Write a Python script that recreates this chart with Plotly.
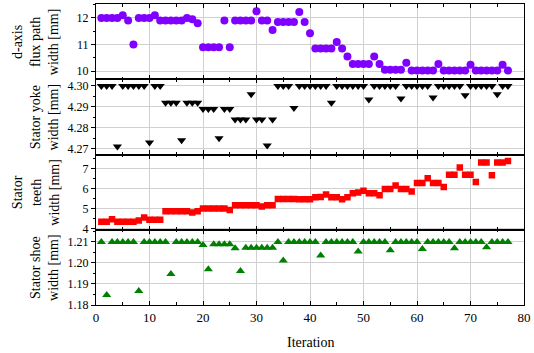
import plotly.graph_objects as go
from plotly.subplots import make_subplots

iteration = list(range(1, 78))

d_axis = [12.0, 12.0, 12.0, 12.0, 12.1, 11.9, 11.0, 12.0, 12.0, 12.0,
          12.1, 11.9, 11.9, 11.9, 11.9, 11.9, 12.0, 11.95, 11.8, 10.9,
          10.9, 10.9, 10.9, 11.9, 10.9, 11.9, 11.9, 11.9, 11.9, 12.25,
          11.9, 11.9, 11.55, 11.85, 11.85, 11.85, 11.85, 12.22, 11.85, 11.42,
          10.85, 10.85, 10.85, 10.85, 11.1, 10.85, 10.55, 10.27, 10.27, 10.27,
          10.27, 10.55, 10.27, 10.06, 10.06, 10.06, 10.06, 10.32, 10.03, 10.03,
          10.03, 10.03, 10.03, 10.27, 10.03, 10.03, 10.03, 10.03, 10.03, 10.24,
          10.03, 10.03, 10.03, 10.03, 10.03, 10.24, 10.03]

yoke = [4.300, 4.300, 4.300, 4.271, 4.300, 4.300, 4.300, 4.300, 4.300, 4.273,
        4.300, 4.300, 4.292, 4.292, 4.292, 4.274, 4.292, 4.292, 4.292, 4.289,
        4.289, 4.289, 4.275, 4.289, 4.289, 4.284, 4.284, 4.284, 4.296, 4.284,
        4.284, 4.2715, 4.284, 4.300, 4.300, 4.300, 4.2895, 4.300, 4.300, 4.300,
        4.300, 4.300, 4.300, 4.292, 4.300, 4.300, 4.300, 4.300, 4.300, 4.300,
        4.2935, 4.300, 4.300, 4.300, 4.300, 4.300, 4.294, 4.300, 4.300, 4.300,
        4.300, 4.300, 4.2945, 4.300, 4.300, 4.300, 4.300, 4.300, 4.2955, 4.300,
        4.300, 4.300, 4.300, 4.300, 4.296, 4.300, 4.300]

teeth = [4.34, 4.34, 4.46, 4.34, 4.34, 4.34, 4.34, 4.40, 4.55, 4.44,
         4.44, 4.44, 4.87, 4.87, 4.87, 4.87, 4.87, 4.80, 4.87, 5.00,
         5.00, 5.00, 5.00, 5.00, 4.93, 5.17, 5.17, 5.17, 5.17, 5.17,
         5.10, 5.17, 5.17, 5.48, 5.48, 5.48, 5.48, 5.46, 5.46, 5.46,
         5.57, 5.58, 5.70, 5.57, 5.56, 5.46, 5.57, 5.77, 5.80, 5.89,
         5.77, 5.77, 5.66, 5.98, 5.98, 6.15, 5.98, 5.98, 5.85, 6.28,
         6.28, 6.51, 6.28, 6.28, 6.07, 6.69, 6.69, 7.05, 6.69, 6.69,
         6.33, 7.30, 7.30, 6.66, 7.30, 7.30, 7.38]

shoe = [1.210, 1.1847, 1.210, 1.210, 1.210, 1.210, 1.210, 1.1867, 1.210, 1.210,
        1.210, 1.210, 1.210, 1.1947, 1.210, 1.210, 1.210, 1.210, 1.210, 1.2086,
        1.197, 1.2089, 1.2089, 1.2089, 1.2089, 1.207, 1.1962, 1.2072, 1.2072, 1.2072,
        1.2072, 1.2072, 1.2072, 1.210, 1.2012, 1.210, 1.210, 1.210, 1.210, 1.210,
        1.210, 1.2036, 1.210, 1.210, 1.210, 1.210, 1.210, 1.210, 1.2055, 1.210,
        1.210, 1.210, 1.210, 1.210, 1.206, 1.210, 1.210, 1.210, 1.210, 1.210,
        1.2066, 1.210, 1.210, 1.210, 1.210, 1.210, 1.207, 1.210, 1.210, 1.210,
        1.210, 1.210, 1.2075, 1.210, 1.210, 1.210, 1.210]

titles = ["d-axis<br>flux path<br>width [mm]", "Stator yoke<br>width [mm]",
          "Stator<br>teeth<br>width [mm]", "Stator shoe<br>width [mm]"]

FONT = "Liberation Serif"

fig = make_subplots(rows=4, cols=1, shared_xaxes=True, vertical_spacing=0)

series = [
    (d_axis, "circle", 8, "#8000ff"),
    (yoke, "triangle-down", 8, "#000000"),
    (teeth, "square", 6.5, "#ff0000"),
    (shoe, "triangle-up", 8, "#008000"),
]
for r, (vals, sym, sz, col) in enumerate(series, start=1):
    fig.add_trace(go.Scatter(x=iteration, y=vals, mode="markers",
                             marker=dict(symbol=sym, size=sz, color=col, line=dict(width=0)),
                             showlegend=False), row=r, col=1)

for r in range(1, 5):
    fig.update_xaxes(range=[0, 80], dtick=10, tick0=0, ticks="inside", ticklen=4,
                     tickcolor="black", showline=True, linecolor="black", linewidth=1.2,
                     mirror="ticks", showgrid=True, gridcolor="#d0d0d0", gridwidth=1,
                     zeroline=False,
                     minor=dict(dtick=5, tick0=0, ticks="inside", ticklen=2.5, tickcolor="black", showgrid=False),
                     tickfont=dict(family=FONT, size=13, color="black"),
                     row=r, col=1)

yconf = [
    dict(range=[9.7, 12.52], tickvals=[10, 11, 12], ticktext=["10", "11", "12"], minor=0.5),
    dict(range=[4.2672, 4.3032], tickvals=[4.27, 4.28, 4.29, 4.30],
         ticktext=["4.27", "4.28", "4.29", "4.30"], minor=0.005),
    dict(range=[3.94, 7.7], tickvals=[4, 5, 6, 7], ticktext=["4", "5", "6", "7"], minor=0.5),
    dict(range=[1.18, 1.2158], tickvals=[1.18, 1.19, 1.20, 1.21],
         ticktext=["1.18", "1.19", "1.20", "1.21"], minor=0.005),
]
for r, c in enumerate(yconf, start=1):
    fig.update_yaxes(range=c["range"], tickvals=c["tickvals"], ticktext=c["ticktext"],
                     ticks="outside", ticklen=4, tickcolor="black",
                     showline=True, linecolor="black", linewidth=1.2, mirror=True,
                     showgrid=True, gridcolor="#d0d0d0", gridwidth=1, zeroline=False,
                     minor=dict(dtick=c["minor"], ticks="outside", ticklen=2, tickcolor="black", showgrid=False),
                     tickfont=dict(family=FONT, size=12, color="black"),
                     row=r, col=1)

annotations = []
centers = [0.875, 0.625, 0.375, 0.125]
for t, yc in zip(titles, centers):
    annotations.append(dict(text=t, xref="paper", yref="paper", x=-0.077, y=yc,
                            xanchor="right", yanchor="middle", textangle=-90, showarrow=False,
                            align="center", font=dict(family=FONT, size=14, color="black")))
annotations.append(dict(text="Iteration", xref="paper", yref="paper", x=0.5, y=-0.125,
                        xanchor="center", yanchor="middle", showarrow=False,
                        font=dict(family=FONT, size=14, color="black")))

fig.update_layout(width=534, height=353, margin=dict(l=96, r=10, t=4, b=48),
                  paper_bgcolor="white", plot_bgcolor="white",
                  annotations=annotations, font=dict(family=FONT, color="black"))

fig.write_html("out.html")
